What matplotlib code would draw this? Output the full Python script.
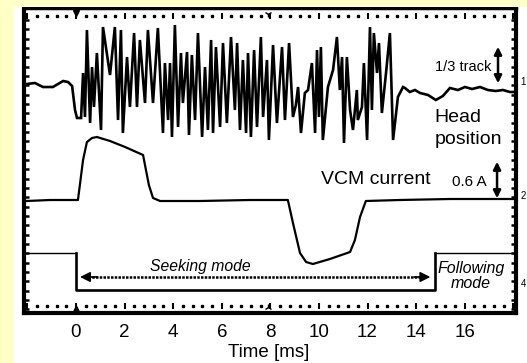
import numpy as np
import matplotlib
matplotlib.use("Agg")
import matplotlib.pyplot as plt
from matplotlib.patches import Rectangle

plt.rcParams['font.family'] = ['Liberation Sans', 'DejaVu Sans']

# ---- data (time in ms, level in scope screen units) ----
head_t = [-2.02, -1.69, -1.36, -0.95, -0.74, -0.53, -0.33, -0.16, -0.04, 0.04, 0.21, 0.29,
          0.37, 0.45, 0.58, 0.66, 0.74, 0.86, 1.03, 1.11, 1.40, 1.60, 1.73, 1.85, 1.93,
          2.10, 2.22, 2.39, 2.51, 2.63, 2.84, 2.96, 3.17, 3.37, 3.58, 3.66, 3.79, 3.87,
          3.95, 4.07, 4.20, 4.32, 4.40, 4.57, 4.65, 4.77, 4.90, 5.02, 5.19, 5.31, 5.43,
          5.56, 5.64, 5.76, 5.93, 6.05, 6.21, 6.38, 6.54, 6.63, 6.75, 6.87, 7.00, 7.08,
          7.20, 7.33, 7.45, 7.61, 7.70, 7.86, 7.94, 8.11, 8.27, 8.48, 8.60, 8.77, 8.93,
          9.05, 9.14, 9.26, 9.42, 9.55, 9.71, 9.84, 9.92, 10.00, 10.08, 10.16, 10.37,
          10.58, 10.74, 10.86, 10.95, 11.03, 11.15, 11.28, 11.40, 11.56, 11.60, 11.77,
          11.85, 11.98, 12.10, 12.18, 12.26, 12.39, 12.47, 12.59, 12.76, 12.92, 13.05,
          13.25, 13.46, 13.54, 13.74, 13.95, 14.16, 14.49, 14.81, 15.10, 15.39, 15.72,
          16.01, 16.30, 16.63, 16.95, 17.28, 17.57, 17.86, 18.11]
head_y = [222, 223, 219, 219, 222, 225, 224, 220, 196, 188, 188, 233,
          189, 276, 183, 239, 199, 253, 176, 279, 231, 279, 186, 276, 173,
          249, 199, 273, 199, 266, 203, 276, 203, 278, 173, 243, 186, 243,
          169, 281, 179, 253, 203, 254, 171, 251, 186, 273, 169, 239, 176,
          266, 173, 259, 179, 263, 183, 269, 196, 263, 176, 246, 173, 253,
          169, 256, 179, 269, 189, 246, 166, 261, 183, 259, 186, 263, 189,
          201, 219, 173, 213, 216, 243, 173, 256, 189, 259, 166, 219,
          236, 269, 216, 249, 163, 249, 196, 176, 216, 186, 199,
          243, 166, 279, 196, 273, 233, 263, 193, 233, 273, 166,
          209, 219, 218, 214, 216, 213, 211, 206, 210, 218, 216,
          219, 217, 219, 216, 215, 216, 214, 214]

vcm_t = [-2.02, -1.07, 0.08, 0.16, 0.29, 0.45, 0.66, 0.86, 1.40, 2.02, 2.76, 2.88,
         3.00, 3.17, 3.46, 5.10, 7.16, 8.72, 8.93, 9.22, 9.47, 9.75, 10.45, 11.28,
         11.48, 11.69, 11.93, 13.33, 15.39, 18.11]
vcm_y = [105, 106, 106, 121, 146, 164, 168, 169, 165, 159, 151, 136,
         121, 108, 105, 105, 106, 106, 83, 53, 44, 42, 47, 54,
         66, 89, 105, 106, 107, 107]

mode_t = [-2.05, 0.0, 0.0, 14.77, 14.77, 18.11]
mode_y = [53, 53, 16, 16, 53, 53]

xticks = [0, 2, 4, 6, 8, 10, 12, 14, 16]

fig = plt.figure(figsize=(5.27, 3.63), dpi=100, facecolor='white')
fig.patches.append(Rectangle((0, 1 - 7 / 363), 1, 7 / 363, transform=fig.transFigure,
                             facecolor='#FFFFC8', edgecolor='none', zorder=0))
fig.patches.append(Rectangle((0, 0), 14 / 527, 1, transform=fig.transFigure,
                             facecolor='#FFFFC8', edgecolor='none', zorder=0))

ax = fig.add_axes([24 / 527, 50 / 363, 492 / 527, 305 / 363])
ax.set_xlim(-2.14, 18.11)
ax.set_ylim(-7, 298)

for s in ['left', 'bottom', 'right']:
    ax.spines[s].set_linewidth(3)
ax.spines['top'].set_linewidth(2.5)

ax.set_xticks(xticks)
ax.set_xticklabels([str(v) for v in xticks], fontsize=13.5)
ax.tick_params(axis='x', length=0, pad=8)
ax.set_yticks(np.arange(286, -5, -9.33))
ax.set_yticklabels([])
ax.tick_params(axis='y', direction='in', length=3.5, width=1.8, left=True, right=True)

ax.set_xlabel('Time [ms]', fontsize=13.5)
ax.xaxis.set_label_coords(0.498, -0.131)
ax.xaxis.label.set_va('center')

# graticule dotted lines
gt = np.arange(-2.0, 18.01, 0.4)
major = np.isclose(np.mod(gt + 100, 2.0), 0) | np.isclose(np.mod(gt + 100, 2.0), 2.0)
for yy in (290, 0):
    ax.plot(gt[~major], [yy] * int((~major).sum()), ls='none', marker='s', ms=1.5, color='k')
    ax.plot(gt[major], [yy] * int(major.sum()), ls='none', marker='|', ms=4.5, mew=1.5, color='k')

# traces
ax.plot(head_t, head_y, color='k', lw=1.9, solid_joinstyle='miter')
ax.plot(vcm_t, vcm_y, color='k', lw=1.6)
ax.plot(mode_t[:2], mode_y[:2], color='k', lw=1.0)
ax.plot(mode_t[1:5], mode_y[1:5], color='k', lw=1.9)
ax.plot(mode_t[4:], mode_y[4:], color='k', lw=1.0)

# cursor markers
ax.plot([0], [293], marker='v', ms=5, color='k', clip_on=False)
ax.plot([0], [-2], marker='^', ms=3.5, color='k', clip_on=False)
ax.plot([7.9], [292], marker='1', ms=5, color='k', clip_on=False)
ax.plot([7.9], [-1], marker='2', ms=5, color='k', clip_on=False)

# seeking mode arrow
ax.plot([0.5, 14.2], [29, 29], color='k', lw=1.8, ls=(0, (1, 0.5)))
ax.annotate('', xy=(0.05, 29), xytext=(1.0, 29),
            arrowprops=dict(arrowstyle='-|>', mutation_scale=15, color='k', lw=1.2))
ax.annotate('', xy=(14.7, 29), xytext=(13.8, 29),
            arrowprops=dict(arrowstyle='-|>', mutation_scale=15, color='k', lw=1.2))
ax.text(5.1, 39, 'Seeking mode', fontsize=11.3, style='italic', ha='center', va='center')
ax.text(16.25, 38, 'Following', fontsize=11.5, style='italic', ha='center', va='center')
ax.text(16.25, 22, 'mode', fontsize=11.5, style='italic', ha='center', va='center')

# scale annotations
ax.text(14.77, 239, '1/3 track', fontsize=10.5, ha='left', va='center')
ax.annotate('', xy=(17.37, 262), xytext=(17.37, 220),
            arrowprops=dict(arrowstyle='<|-|>', mutation_scale=11, color='k', lw=1.8))
ax.text(14.77, 189, 'Head', fontsize=14, ha='left', va='center')
ax.text(14.77, 166, 'position', fontsize=14, ha='left', va='center')
ax.text(10.08, 126, 'VCM current', fontsize=14, ha='left', va='center')
ax.text(15.47, 124, '0.6 A', fontsize=11, ha='left', va='center')
ax.annotate('', xy=(17.33, 147), xytext=(17.33, 105),
            arrowprops=dict(arrowstyle='<|-|>', mutation_scale=11, color='k', lw=1.8))

# channel markers on the right
for lab, yy in (('1', 224), ('2', 110), ('4', 22)):
    ax.text(18.3, yy, lab, fontsize=7, ha='left', va='center', clip_on=False)

fig.savefig('out.png', dpi=100, facecolor=fig.get_facecolor())
